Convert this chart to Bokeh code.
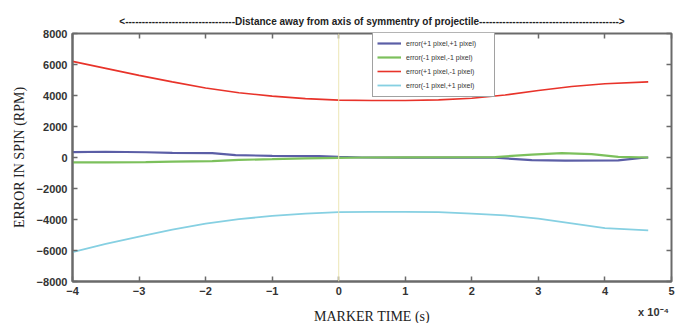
from bokeh.plotting import figure
from bokeh.models import (Range1d, FixedTicker, LinearAxis, Span, Legend, LegendItem,
                          CustomJSTickFormatter, AllLabels)
from bokeh.embed import file_html
from bokeh.resources import INLINE

# ---- data ----
x_red = [-4, -3.5, -3, -2.5, -2, -1.5, -1, -0.5, 0, 0.5, 1, 1.5, 2, 2.5, 3, 3.5, 4, 4.65]
y_red = [6200, 5750, 5300, 4880, 4480, 4180, 3960, 3800, 3700, 3680, 3680, 3720, 3820, 4030, 4320, 4580, 4760, 4880]

x_cyan = [-4, -3.5, -3, -2.5, -2, -1.5, -1, -0.5, 0, 0.5, 1, 1.5, 2, 2.5, 3, 3.5, 4, 4.65]
y_cyan = [-6100, -5580, -5100, -4650, -4260, -3980, -3770, -3620, -3520, -3510, -3510, -3520, -3620, -3730, -3950, -4250, -4550, -4700]

x_blue = [-4, -3.5, -2.9, -2.5, -1.9, -1.55, -1.0, -0.3, 0.0, 0.35, 1.0, 2.35, 2.9, 3.4, 4.2, 4.55, 4.65]
y_blue = [350, 370, 340, 300, 280, 150, 110, 90, 40, 0, -10, -10, -170, -200, -180, -20, 0]

x_green = [-4, -3.5, -2.9, -2.5, -1.9, -1.5, -1.0, -0.5, 0.0, 0.35, 1.0, 2.35, 2.9, 3.35, 3.8, 4.2, 4.65]
y_green = [-320, -320, -300, -260, -240, -150, -110, -60, -20, 0, 10, 30, 180, 280, 220, 40, 0]

x_ticks = [-4, -3, -2, -1, 0, 1, 2, 3, 4, 5]
y_ticks = [-8000, -6000, -4000, -2000, 0, 2000, 4000, 6000, 8000]
exp_tick = [4.73]
exp_label = "x 10\u207b\u2074"

labels = ["error(+1 pixel,+1 pixel)", "error(-1 pixel,-1 pixel)",
          "error(+1 pixel,-1 pixel)", "error(-1 pixel,+1 pixel)"]
colors = ["#5b5ea6", "#7cc05c", "#e8332a", "#86d0e2"]

title_text = ("<" + "-" * 33 + "Distance away from axis of symmentry of projectile" + "-" * 42 + ">")

p = figure(frame_width=599, frame_height=248, output_backend="svg", toolbar_location=None,
           x_range=Range1d(-4, 5), y_range=Range1d(-8000, 8000),
           min_border_left=72, min_border_right=4, min_border_top=33, min_border_bottom=42,
           background_fill_color="white", border_fill_color="white")

p.title.text = title_text
p.title.align = "center"
p.title.text_font = "Liberation Sans"
p.title.text_font_style = "bold"
p.title.text_font_size = "10px"
p.title.text_color = "#222222"
p.title.offset = 0
p.title.standoff = 14

p.xgrid.visible = False
p.ygrid.visible = False
p.outline_line_color = "#6a6a6a"
p.outline_line_width = 2

for ax in (p.xaxis[0], p.yaxis[0]):
    ax.axis_line_color = "#6a6a6a"
    ax.axis_line_width = 2
    ax.major_tick_in = 5
    ax.major_tick_out = 0
    ax.minor_tick_line_color = None
    ax.major_tick_line_color = "#6a6a6a"
    ax.major_tick_line_width = 1.5
    ax.major_label_text_font = "Liberation Sans"
    ax.major_label_text_font_style = "bold"
    ax.major_label_text_font_size = "11px"
    ax.major_label_text_color = "#333333"
    ax.major_label_standoff = 5
    ax.major_label_policy = AllLabels()
    ax.axis_label_text_font = "Liberation Serif"
    ax.axis_label_text_font_style = "normal"
    ax.axis_label_text_font_size = "14px"
    ax.axis_label_text_color = "#222222"

p.xaxis[0].ticker = FixedTicker(ticks=x_ticks)
p.yaxis[0].ticker = FixedTicker(ticks=y_ticks)
p.yaxis[0].axis_label = "ERROR IN SPIN (RPM)"
p.yaxis[0].axis_label_standoff = 7

# second row below the tick labels: exponent note and the axis title
x2 = LinearAxis(ticker=FixedTicker(ticks=exp_tick),
                major_label_overrides={exp_tick[0]: exp_label},
                axis_line_color=None, major_tick_line_color=None, minor_tick_line_color=None,
                major_tick_in=0, major_tick_out=0, major_label_standoff=8,
                major_label_text_font="Liberation Sans", major_label_text_font_style="bold",
                major_label_text_font_size="11px", major_label_text_color="#333333",
                axis_label="MARKER TIME (s)", axis_label_standoff=-12,
                axis_label_text_font="Liberation Serif", axis_label_text_font_style="normal",
                axis_label_text_font_size="14px", axis_label_text_color="#222222")
p.add_layout(x2, "below")

blank = CustomJSTickFormatter(code="return ''")
for loc, tk in (("above", x_ticks), ("right", y_ticks)):
    a = LinearAxis(ticker=FixedTicker(ticks=tk), formatter=blank,
                   axis_line_color=None, major_tick_in=5, major_tick_out=0,
                   minor_tick_line_color=None, major_tick_line_color="#6a6a6a",
                   major_tick_line_width=1.5, major_label_standoff=0)
    p.add_layout(a, loc)

p.add_layout(Span(location=0, dimension="height", line_color="#ece6b4", line_width=1))

r_blue = p.line(x_blue, y_blue, line_color=colors[0], line_width=2.2)
r_green = p.line(x_green, y_green, line_color=colors[1], line_width=2.2)
r_red = p.line(x_red, y_red, line_color=colors[2], line_width=1.6)
r_cyan = p.line(x_cyan, y_cyan, line_color=colors[3], line_width=1.8)

legend = Legend(items=[LegendItem(label=labels[0], renderers=[r_blue]),
                       LegendItem(label=labels[1], renderers=[r_green]),
                       LegendItem(label=labels[2], renderers=[r_red]),
                       LegendItem(label=labels[3], renderers=[r_cyan])],
                location=(300, 184), label_text_font="Liberation Sans",
                label_text_font_size="7px", label_text_color="#333333",
                glyph_width=24, glyph_height=14, label_height=14, label_standoff=5,
                label_width=84, spacing=0, padding=4, margin=0,
                border_line_color="#444444", border_line_width=1,
                background_fill_alpha=1.0)
p.add_layout(legend, "center")

open("out.html", "w").write(file_html(p, INLINE))
